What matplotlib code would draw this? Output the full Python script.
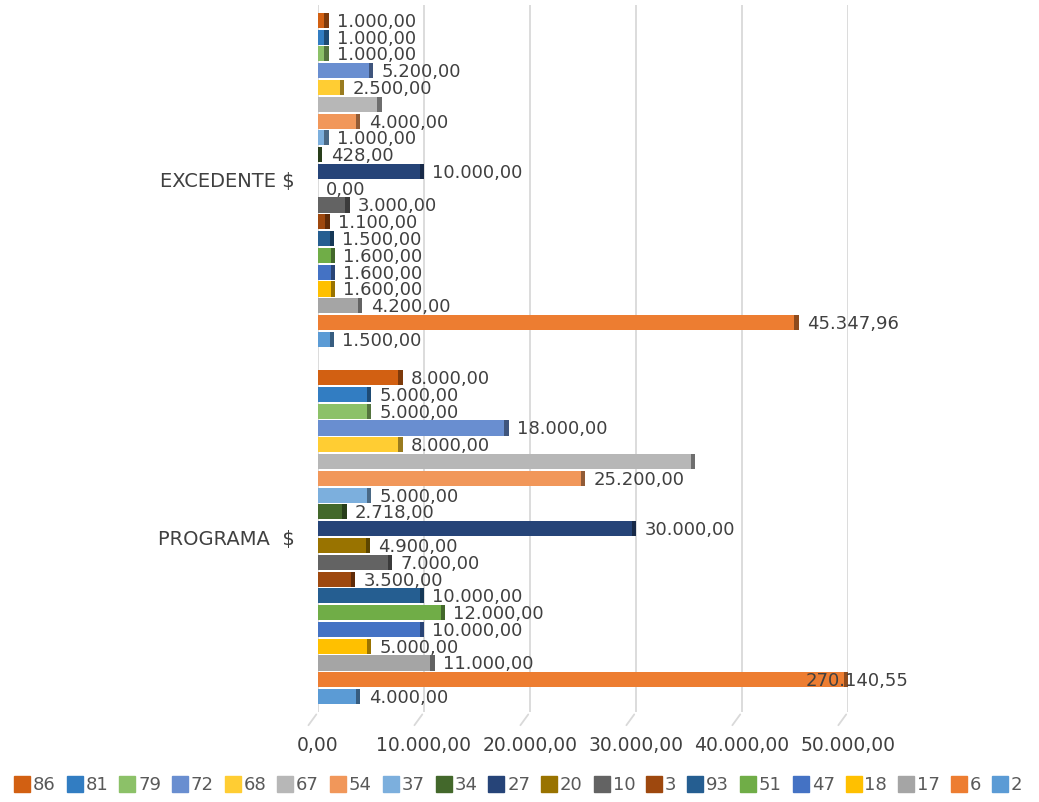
import matplotlib.pyplot as plt
import matplotlib.colors as mcolors
from matplotlib.lines import Line2D

categories = ['EXCEDENTE $', 'PROGRAMA  $']
series = ['86', '81', '79', '72', '68', '67', '54', '37', '34', '27',
          '20', '10', '3', '93', '51', '47', '18', '17', '6', '2']
excedente = [1000, 1000, 1000, 5200, 2500, 6000, 4000, 1000, 428, 10000,
             0, 3000, 1100, 1500, 1600, 1600, 1600, 4200, 45347.96, 1500]
programa = [8000, 5000, 5000, 18000, 8000, 35600, 25200, 5000, 2718, 30000,
            4900, 7000, 3500, 10000, 12000, 10000, 5000, 11000, 270140.55, 4000]
colors = ['#D26012', '#327DC2', '#8CC168', '#698ED0', '#FFCD33', '#B7B7B7',
          '#F1975A', '#7CAFDD', '#43682B', '#264478', '#997300', '#636363',
          '#9E480E', '#255E91', '#70AD47', '#4472C4', '#FFC000', '#A5A5A5',
          '#ED7D31', '#5B9BD5']
hidden_labels = ['67']
xticks = [0, 10000, 20000, 30000, 40000, 50000]
XMAX = 50000


def fmt(v):
    """spanish style number: 1.000,00"""
    s = f"{v:,.2f}"
    return s.replace(',', 'X').replace('.', ',').replace('X', '.')


def darker(c, f=0.6):
    r, g, b = mcolors.to_rgb(c)
    return (r * f, g * f, b * f)


def main():
    fig = plt.figure(figsize=(10.39, 8.02), dpi=100)
    ax = fig.add_axes([0.306, 0.112, 0.510, 0.882])
    data = [excedente, programa]
    w = 0.047
    n = len(series)
    cap = 400
    for i, name in enumerate(series):
        for c, vals in enumerate(data):
            v = vals[i]
            y = c + (i - (n - 1) / 2) * w
            shown = min(v, XMAX)
            ax.barh(y, shown, height=w * 0.9, color=colors[i], zorder=3)
            if shown > cap:
                ax.barh(y, cap, left=shown - cap, height=w * 0.9,
                        color=darker(colors[i]), zorder=3)
            if name in hidden_labels:
                continue
            if v > XMAX:
                ax.text(XMAX * 0.92, y + 0.004, fmt(v), ha='left',
                        va='center', fontsize=13, color='#404040', zorder=5)
            else:
                ax.annotate(fmt(v), (shown, y + 0.004), xytext=(6, 0),
                            textcoords='offset points', ha='left',
                            va='center', fontsize=13, color='#404040',
                            zorder=5)

    ax.set_xlim(0, XMAX)
    ax.set_ylim(1.49, -0.49)
    ax.set_yticks([0, 1])
    ax.set_yticklabels(categories, fontsize=14, color='#404040')
    ax.set_xticks(xticks)
    ax.set_xticklabels([fmt(t) for t in xticks], fontsize=13.5,
                       color='#404040')
    ax.tick_params(axis='x', length=0, pad=17)
    ax.tick_params(axis='y', length=0, pad=17)
    ax.grid(axis='x', color='#D9D9D9', linewidth=1.3, zorder=0)
    for s in ax.spines.values():
        s.set_visible(False)
    # little slanted floor lines under each grid line
    for t in xticks:
        ax.annotate('', xy=(t, 0), xycoords=('data', 'axes fraction'),
                    xytext=(-8, -11), textcoords='offset points',
                    arrowprops=dict(arrowstyle='-', color='#D9D9D9', lw=1.3))

    handles = [Line2D([], [], marker='s', linestyle='', markersize=11,
                      color=colors[i]) for i in range(n)]
    fig.legend(handles, series, loc='center', bbox_to_anchor=(0.5, 0.021),
               ncol=n, frameon=False, fontsize=13, handlelength=0.6,
               handletextpad=0.3, columnspacing=0.75, labelcolor='#595959')
    fig.savefig('out.png', dpi=100)


if __name__ == "__main__":
    main()
